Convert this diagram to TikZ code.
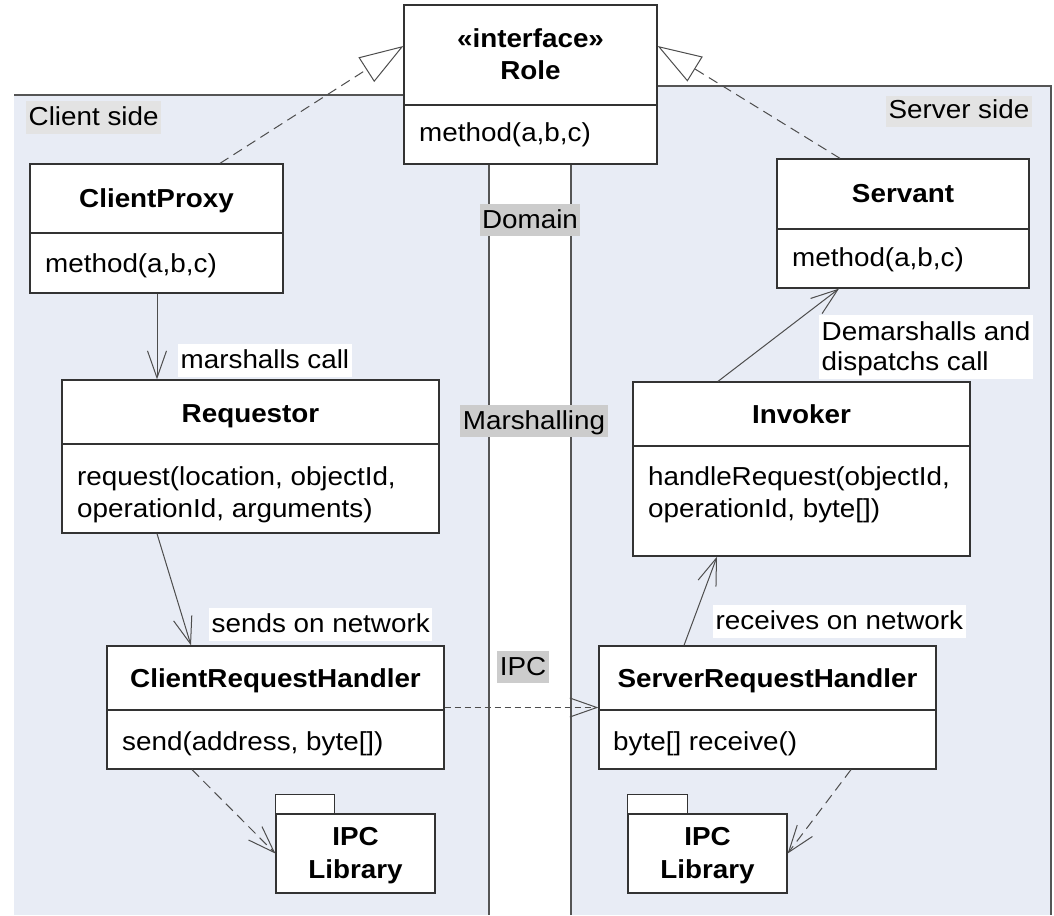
\documentclass[tikz,border=0pt]{standalone}
\usepackage{fontspec}
\setmainfont{Liberation Sans}[FakeStretch=1.07]
\usetikzlibrary{arrows.meta,calc}
\definecolor{panel}{RGB}{232,236,245}
\definecolor{lblgray}{RGB}{227,227,227}
\definecolor{stripgray}{RGB}{204,204,204}
\definecolor{ink}{RGB}{51,51,51}
\definecolor{conn}{RGB}{77,77,77}
\definecolor{pline}{RGB}{85,85,85}
\tikzset{
  every node/.style={font=\fontsize{26}{30}\selectfont, text=black},
  cls/.style={draw=ink, line width=1.3pt, fill=white, inner sep=0pt},
  divline/.style={draw=ink, line width=1.3pt},
  panelline/.style={draw=pline, line width=1.3pt},
  ttl/.style={font=\fontsize{26}{30}\selectfont\bfseries, anchor=base, inner sep=0pt},
  mth/.style={anchor=base west, inner sep=0pt},
  lbl/.style={inner xsep=2.5pt, inner ysep=0pt, text height=24pt, text depth=9pt},
  lblw/.style={lbl, fill=white, anchor=base west},
  sidelbl/.style={lbl, fill=lblgray},
  striplbl/.style={lbl, fill=stripgray, anchor=base, text depth=8pt},
  assoc/.style={draw=conn, line width=1pt, -{Straight Barb[length=27pt,width=19pt,line width=1pt]}},
  real/.style={draw=conn, line width=1pt, dash pattern=on 10pt off 6pt, -{Triangle[open,length=44pt,width=29pt,line width=1pt]}},
  dep/.style={draw=conn, line width=1pt, dash pattern=on 10pt off 6pt, -{Straight Barb[length=27pt,width=19pt,line width=1pt]}},
  depdense/.style={draw=conn, line width=1pt, dash pattern=on 6pt off 4pt, -{Straight Barb[length=27pt,width=19pt,line width=1pt]}},
}
\begin{document}
\begin{tikzpicture}[x=1pt,y=-1pt]
\useasboundingbox (0,0) rectangle (1054,915);
% panels
\fill[panel] (14,95) rectangle (489,915);
\fill[panel] (571,86) rectangle (1051,915);
\draw[panelline] (14,95) -- (489,95) -- (489,915);
\draw[panelline] (571,915) -- (571,86) -- (1051,86) -- (1051,915);

% panel labels
\node[sidelbl, anchor=base west] (clientside) at (26,125) {Client side};
\node[sidelbl, anchor=base east, text height=23pt, text depth=8pt] (serverside) at (1032,119) {Server side};
\node[striplbl] (domain) at (530,228) {Domain};
\node[striplbl] (marsh) at (534,429) {Marshalling};
\node[striplbl] (ipc) at (523,675) {IPC};

% Role
\node[cls, minimum width=253pt, minimum height=159pt] (role) at (530.5,84.5) {};
\draw[divline] ($(role.west)+(0,20.5)$) -- ($(role.east)+(0,20.5)$);
\node[ttl] (rolest) at (530.5,48) {«interface»};
\node[ttl] (rolet) at (530.5,80) {Role};
\node[mth] (rolem) at (419,142) {method(a,b,c)};

% ClientProxy
\node[cls, minimum width=253pt, minimum height=129pt] (cp) at (156.5,228.5) {};
\draw[divline] ($(cp.west)+(0,4.5)$) -- ($(cp.east)+(0,4.5)$);
\node[ttl] (cpt) at (156.5,207) {ClientProxy};
\node[mth] (cpm) at (45,272) {method(a,b,c)};

% Servant
\node[cls, minimum width=252pt, minimum height=129pt] (sv) at (903,223.5) {};
\draw[divline] ($(sv.west)+(0,5.5)$) -- ($(sv.east)+(0,5.5)$);
\node[ttl] (svt) at (903,202) {Servant};
\node[mth] (svm) at (792,266) {method(a,b,c)};

% Requestor
\node[cls, minimum width=377pt, minimum height=153pt] (rq) at (250.5,456.5) {};
\draw[divline] ($(rq.west)+(0,-12.5)$) -- ($(rq.east)+(0,-12.5)$);
\node[ttl] (rqt) at (250.5,422) {Requestor};
\node[mth] (rqm1) at (77,485) {request(location, objectId,};
\node[mth] (rqm2) at (77,517) {operationId, arguments)};

% Invoker
\node[cls, minimum width=337pt, minimum height=174pt] (inv) at (801.5,469) {};
\draw[divline] ($(inv.west)+(0,-23)$) -- ($(inv.east)+(0,-23)$);
\node[ttl] (invt) at (801.5,423) {Invoker};
\node[mth] (invm1) at (648,485) {handleRequest(objectId,};
\node[mth] (invm2) at (648,517) {operationId, byte[])};

% ClientRequestHandler
\node[cls, minimum width=337pt, minimum height=123pt] (crh) at (275.5,707.5) {};
\draw[divline] ($(crh.west)+(0,2.5)$) -- ($(crh.east)+(0,2.5)$);
\node[ttl] (crht) at (275.5,687) {ClientRequestHandler};
\node[mth] (crhm) at (122,750) {send(address, byte[])};

% ServerRequestHandler
\node[cls, minimum width=337pt, minimum height=123pt] (srh) at (767.5,707.5) {};
\draw[divline] ($(srh.west)+(0,2.5)$) -- ($(srh.east)+(0,2.5)$);
\node[ttl] (srht) at (767.5,687) {ServerRequestHandler};
\node[mth] (srhm) at (613,750) {byte[] receive()};

% IPC libraries (packages)
\node[cls, minimum width=159pt, minimum height=79pt] (lib1) at (355.5,853.5) {};
\draw[cls] (lib1.north west) rectangle ++(59,-19);
\node[ttl] (lib1a) at (355.5,845) {IPC};
\node[ttl] (lib1b) at (355.5,878) {Library};

\node[cls, minimum width=159pt, minimum height=79pt] (lib2) at (707.5,853.5) {};
\draw[cls] (lib2.north west) rectangle ++(60,-19);
\node[ttl] (lib2a) at (707.5,845) {IPC};
\node[ttl] (lib2b) at (707.5,878) {Library};

% connectors
\draw[real] ([xshift=63.5pt]cp.north) -- ([yshift=38.5pt]role.west);
\draw[real] ([xshift=-63pt]sv.north) -- ([yshift=38.5pt]role.east);
\draw[assoc] ([xshift=0.5pt]cp.south) -- ([xshift=0.5pt]cp.south |- rq.north);
\draw[assoc] ([xshift=-93.5pt]rq.south) -- ([xshift=-84.5pt]crh.north);
\draw[depdense] (crh.east) -- (srh.west);
\draw[dep] ([xshift=-83.5pt]crh.south) -- (lib1.west);
\draw[assoc] ([xshift=-83.5pt]srh.north) -- ([xshift=-84.5pt]inv.south);
\draw[assoc] ([xshift=-83.5pt]inv.north) -- ([xshift=-64pt]sv.south);
\draw[dep] ([xshift=83.5pt]srh.south) -- (lib2.east);

% connector labels
\node[lblw] (lmarsh) at (178,368) {marshalls call};
\node[lblw] (lsends) at (209,632) {sends on network};
\node[lblw] (lrecv) at (713,629) {receives on network};
\node[fill=white, anchor=north west, align=left, inner xsep=2.5pt, inner ysep=0pt] (ldemarsh) at (819,315)
  {\rule{0pt}{25pt}Demarshalls and\\\rule[-9pt]{0pt}{9pt}dispatchs call};
\end{tikzpicture}
\end{document}
